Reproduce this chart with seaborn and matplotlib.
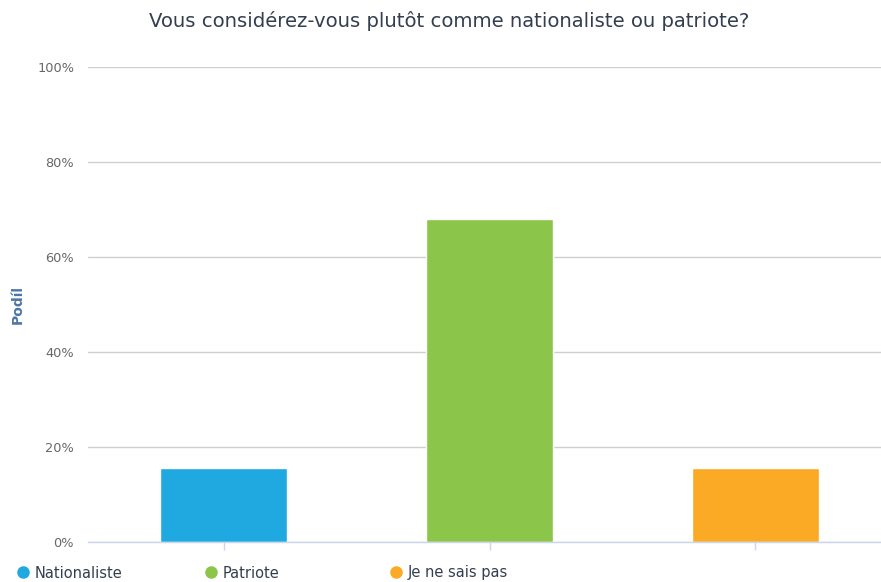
import matplotlib
matplotlib.use("Agg")
import matplotlib.pyplot as plt
from matplotlib.lines import Line2D
from matplotlib.ticker import FuncFormatter
import seaborn as sns
import pandas as pd

categories = ["Nationaliste", "Patriote", "Je ne sais pas"]
values = [15.6, 68.0, 15.6]
colors = ["#1FA9E0", "#8BC64A", "#FBAA26"]
yticks = [0, 20, 40, 60, 80, 100]
title = "Vous considérez-vous plutôt comme nationaliste ou patriote?"
ylabel = "Podíl"

sns.set_theme(style="white")
plt.rcParams['font.family'] = ['DejaVu Sans']

df = pd.DataFrame({"cat": categories, "val": values})

fig = plt.figure(figsize=(8.81, 5.82), dpi=100)
W, H = 881, 582
ax = fig.add_axes([88 / W, 1 - 542 / H, (881 - 88) / W, (542 - 67) / H])

sns.barplot(data=df, x="cat", y="val", hue="cat", palette=colors,
            order=categories, hue_order=categories, width=0.477,
            edgecolor="white", linewidth=1, legend=False, ax=ax, zorder=3,
            saturation=1)

ax.set_ylim(0, 100)
ax.set_xlim(-0.51, 2.472)
ax.set_yticks(yticks)
ax.yaxis.set_major_formatter(FuncFormatter(lambda v, p: f"{int(v)}%"))
ax.grid(axis="y", color="#cfcfcf", linewidth=1, zorder=0)
ax.grid(axis="x", visible=False)
ax.set_axisbelow(True)
for s in ["top", "right", "left"]:
    ax.spines[s].set_visible(False)
ax.spines["bottom"].set_color("#ccd6eb")
ax.spines["bottom"].set_linewidth(1)
ax.spines["bottom"].set_zorder(4)
ax.tick_params(axis="x", which="both", bottom=True, length=6, width=1,
               color="#ccd6eb", labelbottom=False, direction="out")
ax.tick_params(axis="y", length=0, labelsize=9.3, labelcolor="#666666", pad=10)
ax.set_xlabel("")
ax.set_ylabel("")
fig.text(18 / W, 1 - 305 / H, ylabel, rotation=90, ha="center", va="center",
         fontsize=10, fontweight="bold", color="#4d75a6")

fig.text(449 / W, 1 - 21 / H, title, ha="center", va="center",
         fontsize=14.1, color="#333f50")

xs = [22, 210, 395]
for x0, c, lab in zip(xs, colors, categories):
    h = Line2D([], [], marker="o", linestyle="none", markersize=8,
               markerfacecolor=c, markeredgecolor=c)
    leg = fig.legend(handles=[h], labels=[lab], loc="center left",
                     bbox_to_anchor=((x0 - 8) / W, 1 - 573 / H),
                     frameon=False, fontsize=10.5, handletextpad=0.2,
                     handlelength=1.2, borderaxespad=0, borderpad=0)
    for t in leg.get_texts():
        t.set_color("#333f50")

fig.savefig("out.png", dpi=100)
